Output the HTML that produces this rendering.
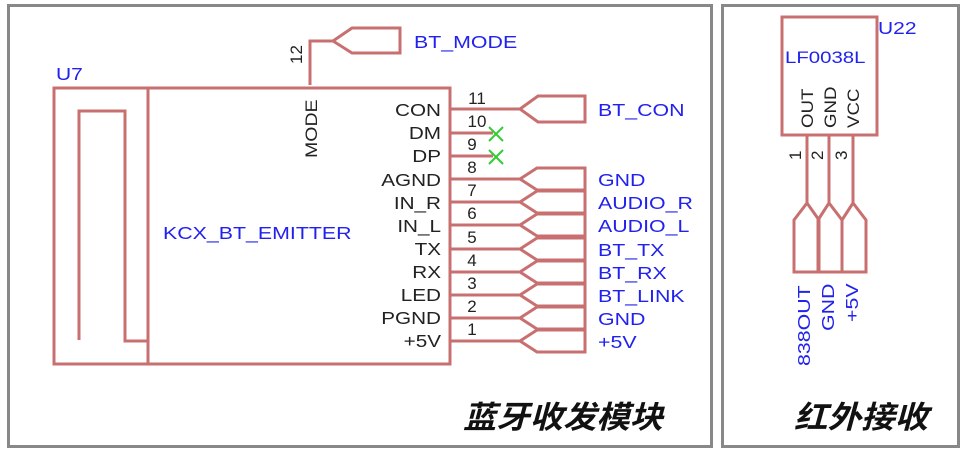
<!DOCTYPE html>
<html><head><meta charset="utf-8"><style>
html,body{margin:0;padding:0;background:#fff;}
svg{display:block;}
text{font-family:"Liberation Sans","Noto Sans CJK SC",sans-serif;}
</style></head><body>
<svg width="967" height="452" viewBox="0 0 967 452" xmlns="http://www.w3.org/2000/svg">
<rect x="8.5" y="5.5" width="703" height="441" fill="none" stroke="#888" stroke-width="3"/>
<rect x="722.5" y="5.5" width="236" height="441" fill="none" stroke="#888" stroke-width="3"/>
<g stroke="#c87070" stroke-width="3" fill="none">
<rect x="54" y="88" width="396" height="276"/>
<line x1="148" y1="88" x2="148" y2="364"/>
<polyline points="79,340 79,111 125,111 125,341 148,341"/>
<polyline points="310,85 310,41 333,41"/>
<polygon points="333,41 352,28 400,28 400,53 352,53"/>
<line x1="450" y1="109" x2="520" y2="109"/>
<polygon points="520,109 538,96 585,96 585,122 538,122"/>
<line x1="450" y1="133" x2="493" y2="133"/>
<line x1="450" y1="156" x2="493" y2="156"/>
<g>
<line x1="450" y1="179" x2="520" y2="179"/><polygon points="520,179 537,168 585,168 585,190 537,190"/>
<line x1="450" y1="202" x2="520" y2="202"/><polygon points="520,202 537,191 585,191 585,213 537,213"/>
<line x1="450" y1="225" x2="520" y2="225"/><polygon points="520,225 537,214 585,214 585,236 537,236"/>
<line x1="450" y1="249" x2="520" y2="249"/><polygon points="520,249 537,238 585,238 585,260 537,260"/>
<line x1="450" y1="272" x2="520" y2="272"/><polygon points="520,272 537,261 585,261 585,283 537,283"/>
<line x1="450" y1="295" x2="520" y2="295"/><polygon points="520,295 537,284 585,284 585,306 537,306"/>
<line x1="450" y1="318" x2="520" y2="318"/><polygon points="520,318 537,307 585,307 585,329 537,329"/>
<line x1="450" y1="341" x2="520" y2="341"/><polygon points="520,341 537,330 585,330 585,352 537,352"/>
</g>
<rect x="782" y="17" width="95" height="118"/>
<line x1="807" y1="135" x2="807" y2="203"/>
<line x1="829" y1="135" x2="829" y2="203"/>
<line x1="853" y1="135" x2="853" y2="203"/>
<polygon points="807,203 794,220 794,272 819,272 819,220"/>
<polygon points="829,203 818,220 818,272 842,272 842,220"/>
<polygon points="853,203 842,220 842,272 866,272 866,220"/>
</g>
<g stroke="#3c3" stroke-width="2">
<line x1="489" y1="127" x2="503" y2="141"/><line x1="503" y1="127" x2="489" y2="141"/>
<line x1="489" y1="150" x2="503" y2="164"/><line x1="503" y1="150" x2="489" y2="164"/>
</g>
<g fill="#2222ee" font-size="17.5">
<text transform="translate(56,80) scale(1.2,1)">U7</text>
<text transform="translate(163,239) scale(1.22,1)">KCX_BT_EMITTER</text>
<text transform="translate(414,48) scale(1.22,1)">BT_MODE</text>
<text transform="translate(598,116) scale(1.22,1)">BT_CON</text>
<text transform="translate(598,186) scale(1.22,1)">GND</text>
<text transform="translate(598,209) scale(1.22,1)">AUDIO_R</text>
<text transform="translate(598,232) scale(1.22,1)">AUDIO_L</text>
<text transform="translate(598,256) scale(1.22,1)">BT_TX</text>
<text transform="translate(598,279) scale(1.22,1)">BT_RX</text>
<text transform="translate(598,302) scale(1.22,1)">BT_LINK</text>
<text transform="translate(598,325) scale(1.22,1)">GND</text>
<text transform="translate(598,348) scale(1.22,1)">+5V</text>
<text transform="translate(878,34) scale(1.2,1)">U22</text>
<text transform="translate(785,63) scale(1.2,1)" font-size="17">LF0038L</text>
<text transform="translate(810,366) rotate(-90) scale(1.22,1)">838OUT</text>
<text transform="translate(834,331) rotate(-90) scale(1.22,1)">GND</text>
<text transform="translate(858,322) rotate(-90) scale(1.22,1)">+5V</text>
</g>
<g fill="#222" font-size="18" text-anchor="end">
<text transform="translate(441,116) scale(1.15,1)">CON</text>
<text transform="translate(441,139) scale(1.15,1)">DM</text>
<text transform="translate(441,162) scale(1.15,1)">DP</text>
<text transform="translate(441,186) scale(1.15,1)">AGND</text>
<text transform="translate(441,209) scale(1.15,1)">IN_R</text>
<text transform="translate(441,232) scale(1.15,1)">IN_L</text>
<text transform="translate(441,255) scale(1.15,1)">TX</text>
<text transform="translate(441,278) scale(1.15,1)">RX</text>
<text transform="translate(441,301) scale(1.15,1)">LED</text>
<text transform="translate(441,324) scale(1.15,1)">PGND</text>
<text transform="translate(441,347) scale(1.15,1)">+5V</text>
</g>
<g fill="#222" font-size="17" text-anchor="middle">
<text x="477" y="104">11</text>
<text x="477" y="127">10</text>
<text x="472" y="150">9</text>
<text x="472" y="173">8</text>
<text x="472" y="196">7</text>
<text x="472" y="219">6</text>
<text x="472" y="243">5</text>
<text x="472" y="266">4</text>
<text x="472" y="289">3</text>
<text x="472" y="312">2</text>
<text x="472" y="335">1</text>
</g>
<g fill="#222" font-size="17">
<text transform="translate(317,158) rotate(-90) scale(1.15,1)">MODE</text>
<text transform="translate(302,64) rotate(-90)">12</text>
<text transform="translate(813,128) rotate(-90) scale(1.1,1)">OUT</text>
<text transform="translate(836,128) rotate(-90) scale(1.1,1)">GND</text>
<text transform="translate(859,128) rotate(-90) scale(1.1,1)">VCC</text>
<text transform="translate(801,160) rotate(-90)">1</text>
<text transform="translate(823,160) rotate(-90)">2</text>
<text transform="translate(847,160) rotate(-90)">3</text>
</g>
<g fill="#111" font-size="31" font-style="italic" font-weight="bold">
<text x="463" y="428" textLength="200" lengthAdjust="spacingAndGlyphs" style="font-family:'Noto Sans CJK SC',sans-serif">蓝牙收发模块</text>
<text x="794" y="428" textLength="134" lengthAdjust="spacingAndGlyphs" style="font-family:'Noto Sans CJK SC',sans-serif">红外接收</text>
</g>
</svg>
</body></html>
